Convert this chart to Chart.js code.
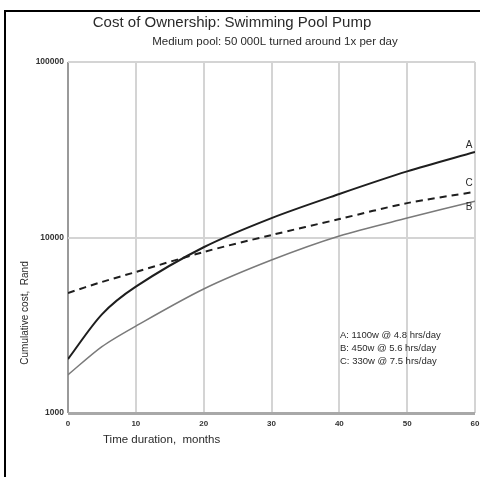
<!DOCTYPE html>
<html>
<head>
<meta charset="utf-8">
<script src="https://cdn.jsdelivr.net/npm/chart.js@4/dist/chart.umd.min.js"></script>
<style>
  html, body { margin: 0; padding: 0; background: #fff; }
  #wrap { position: relative; width: 480px; height: 477px; }
</style>
</head>
<body>
<div id="wrap"><canvas id="chart" width="480" height="477"></canvas></div>
<script>
// ── Data ──
const months = [0, 5, 10, 20, 30, 40, 50, 60];
const costA = [2030, 3650, 5250, 8800, 12900, 17700, 23800, 30700];
const costB = [1650, 2390, 3130, 5090, 7440, 10200, 12900, 16100];
const costC = [4830, 5580, 6360, 8270, 10330, 12740, 15700, 18200];
const yTicks = [1000, 10000, 100000];
const seriesTags = ['A', 'B', 'C'];
const legendLines = [
  'A: 1100w @ 4.8 hrs/day',
  'B: 450w @ 5.6 hrs/day',
  'C: 330w @ 7.5 hrs/day',
];

const FONT = 'Arial, "Liberation Sans", sans-serif';

const toPoints = arr => months.map((m, i) => ({ x: m, y: arr[i] }));

// ── Frame, titles, end labels, legend text ──
const decorPlugin = {
  id: 'decor',
  beforeDraw(chart) {
    const c = chart.ctx;
    c.save();
    c.fillStyle = '#fff';
    c.fillRect(0, 0, chart.width, chart.height);
    c.fillStyle = '#000';
    c.fillRect(4, 10, chart.width - 4, 2);
    c.fillRect(4, 10, 2, chart.height - 10);
    c.restore();
  },
  afterDraw(chart) {
    const c = chart.ctx;
    c.save();
    c.fillStyle = '#2a2a2a';
    c.textBaseline = 'middle';

    c.textAlign = 'center';
    c.font = '15px ' + FONT;
    c.fillText('Cost of Ownership: Swimming Pool Pump', 232, 23);
    c.font = '11.5px ' + FONT;
    c.fillText('Medium pool: 50 000L turned around 1x per day', 275, 42);

    c.font = '11.5px ' + FONT;
    c.textAlign = 'left';
    c.fillText('Time duration,  months', 103, 440);

    c.save();
    c.translate(25, 313);
    c.rotate(-Math.PI / 2);
    c.textAlign = 'center';
    c.font = '10px ' + FONT;
    c.fillText('Cumulative cost,  Rand', 0, 0);
    c.restore();

    // letters at the line ends
    const offsets = { A: -7, B: 6, C: -9 };
    c.font = '10px ' + FONT;
    c.textAlign = 'center';
    chart.data.datasets.forEach((ds, i) => {
      const pts = chart.getDatasetMeta(i).data;
      const p = pts[pts.length - 1];
      const tag = seriesTags[i];
      c.fillText(tag, p.x - 6, p.y + offsets[tag]);
    });

    c.font = '9.5px ' + FONT;
    c.textAlign = 'left';
    legendLines.forEach((t, i) => c.fillText(t, 340, 335 + i * 13));
    c.restore();
  },
};

new Chart(document.getElementById('chart'), {
  type: 'line',
  data: {
    datasets: [
      {
        label: 'A',
        data: toPoints(costA),
        borderColor: '#1e1e1e',
        borderWidth: 2,
        pointRadius: 0,
        tension: 0.3,
      },
      {
        label: 'B',
        data: toPoints(costB),
        borderColor: '#7a7a7a',
        borderWidth: 1.5,
        pointRadius: 0,
        tension: 0.3,
      },
      {
        label: 'C',
        data: toPoints(costC),
        borderColor: '#1e1e1e',
        borderWidth: 2,
        borderDash: [7, 5],
        pointRadius: 0,
        tension: 0.3,
      },
    ],
  },
  options: {
    responsive: false,
    animation: false,
    layout: { padding: { top: 62, right: 5, left: 0, bottom: 0 } },
    plugins: {
      legend: { display: false },
      title: { display: false },
      tooltip: { enabled: false },
    },
    scales: {
      x: {
        type: 'linear',
        min: 0,
        max: 60,
        afterFit: s => { s.height = 64; s.paddingRight = 0; s.paddingLeft = 0; },
        grid: {
          color: ctx => (ctx.tick && ctx.tick.value === 0 ? '#9a9a9a' : '#d4d4d4'),
          lineWidth: 2,
          drawTicks: false,
        },
        border: { display: false },
        ticks: {
          stepSize: 10,
          padding: 6,
          color: '#333',
          font: { family: FONT, size: 8, weight: 'bold' },
        },
      },
      y: {
        type: 'logarithmic',
        min: 1000,
        max: 100000,
        afterFit: s => { s.width = 68; s.paddingTop = 0; s.paddingBottom = 0; },
        afterBuildTicks: s => { s.ticks = yTicks.map(v => ({ value: v })); },
        grid: {
          color: ctx => (ctx.tick && ctx.tick.value === 1000 ? '#a8a8a8' : '#d4d4d4'),
          lineWidth: ctx => (ctx.tick && ctx.tick.value === 1000 ? 3 : 2),
          drawTicks: false,
        },
        border: { display: false },
        ticks: {
          padding: 4,
          color: '#333',
          font: { family: FONT, size: 8.5, weight: 'bold' },
          callback: v => String(v),
        },
      },
    },
  },
  plugins: [decorPlugin],
});
</script>
</body>
</html>
